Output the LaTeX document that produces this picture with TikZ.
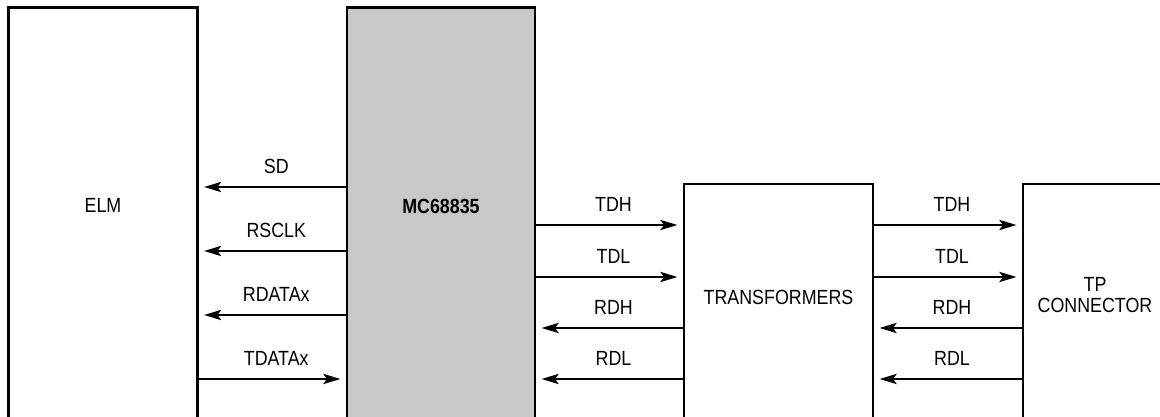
\documentclass[tikz,border=0pt]{standalone}
\usepackage{fontspec}
\setmainfont{Liberation Sans}[FakeStretch=0.87]
\usepackage{tikz}
\usetikzlibrary{arrows.meta}
\definecolor{chipgray}{RGB}{200,200,202}

\begin{document}
\begin{tikzpicture}[x=1pt, y=1pt, line width=2.8pt,
			block/.style={rectangle,draw,inner sep=0pt,outer sep=0pt,minimum height=422.5pt},
			block text/.style={inner sep=0pt,align=center,font=\fontsize{20.5}{21}\selectfont},
			sig/.style={-{Stealth[length=17pt,width=10pt,inset=3.5pt]},shorten >=6.5pt}]
			\useasboundingbox (0,0) rectangle (1160,417);
			
			\node[block,minimum width=189pt] (elm) at (103,198.25) {};
			\node[block,fill=chipgray,minimum width=188pt] (mc) at (441,198.25) {};
			\node[block,minimum width=189pt,minimum height=246pt] (trans) at (778.5,110) {};
			\node[block,minimum width=147pt,minimum height=246pt] (tp) at (1096.5,110) {};
			
			\node[block text] (elm text) at (103,212) {ELM};
			\node[block text,font=\fontsize{20.5}{21}\selectfont\bfseries] (mc text) at (441,211) {MC68835};
			\node[block text] (trans text) at (778.5,119.5) {TRANSFORMERS};
			\node[block text] (tp text) at (1095,121.5) {TP\\CONNECTOR};
			
			% ELM <-> MC68835
			\path[every node/.style={font=\fontsize{20.5}{21}\selectfont,above=12pt,xshift=4pt,inner sep=0pt}]
			(mc.west |- 0,230) edge[sig] node {SD} (elm.east |- 0,230)
			(mc.west |- 0,166) edge[sig] node {RSCLK} (elm.east |- 0,166)
			(mc.west |- 0,102) edge[sig] node {RDATAx} (elm.east |- 0,102)
			(elm.east |- 0,38) edge[sig] node {TDATAx} (mc.west |- 0,38)
			
			% MC68835 <-> TRANSFORMERS
			(mc.east |- 0,192) edge[sig] node {TDH} (trans.west |- 0,192)
			(mc.east |- 0,140) edge[sig] node {TDL} (trans.west |- 0,140)
			(trans.west |- 0,89) edge[sig] node {RDH} (mc.east |- 0,89)
			(trans.west |- 0,38) edge[sig] node {RDL} (mc.east |- 0,38)
			
			% TRANSFORMERS <-> TP CONNECTOR
			(trans.east |- 0,192) edge[sig] node {TDH} (tp.west |- 0,192)
			(trans.east |- 0,140) edge[sig] node {TDL} (tp.west |- 0,140)
			(tp.west |- 0,89) edge[sig] node {RDH} (trans.east |- 0,89)
			(tp.west |- 0,38) edge[sig] node {RDL} (trans.east |- 0,38)
			;
			\end{tikzpicture}
\end{document}
